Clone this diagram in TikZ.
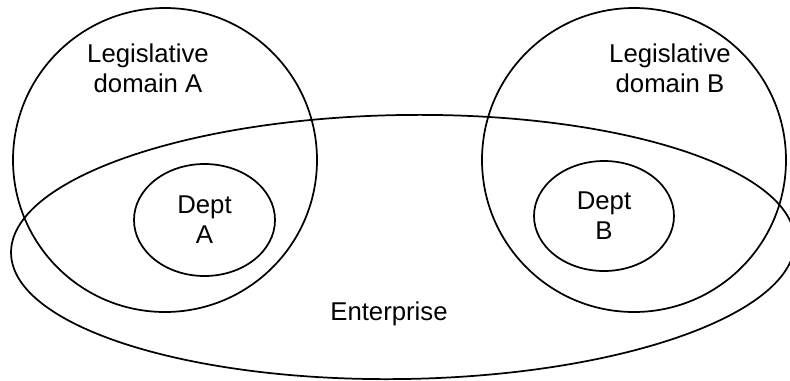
\documentclass[tikz,border=0pt]{standalone}
\usepackage{fontspec}
\setmainfont{Liberation Sans}
\usetikzlibrary{shapes.geometric}
\tikzset{every picture/.style={line width=1.3pt}}
\tikzset{region/.style={draw, inner sep=0pt}, label text/.style={inner sep=0.75pt, align=center}}

\begin{document}
\begin{tikzpicture}[x=0.75pt,y=0.75pt,yscale=-1,xscale=1,font=\fontsize{19.3}{22.5}\selectfont]
%set diagram to 790 x 380
\useasboundingbox (0,0) rectangle (790,380);

%Shape: Ellipse [enterprise]
\draw (403,247) node (ent) [region, ellipse, rotate=0.9, minimum width=588pt, minimum height=198pt] {};
%Shape: Circle [domain A]
\draw (165,160) node (domA) [region, circle, minimum size=228pt] {};
%Shape: Circle [domain B]
\draw (634,160) node (domB) [region, circle, minimum size=228pt] {};
%Shape: Ellipse [dept A]
\draw (204.5,220) node (deptA) [region, ellipse, minimum width=105.75pt, minimum height=84pt, align=center] {Dept\\A};
%Shape: Ellipse [dept B]
\draw (604,216) node (deptB) [region, ellipse, minimum width=105pt, minimum height=82.5pt, align=center] {Dept\\B};

% Text Node
\draw (148,68) node (legA) [label text] {Legislative\\domain A};
% Text Node
\draw (670,68) node (legB) [label text] {Legislative\\domain B};
% Text Node
\draw (389,314) node (entTxt) [label text] {Enterprise};

\end{tikzpicture}
\end{document}
